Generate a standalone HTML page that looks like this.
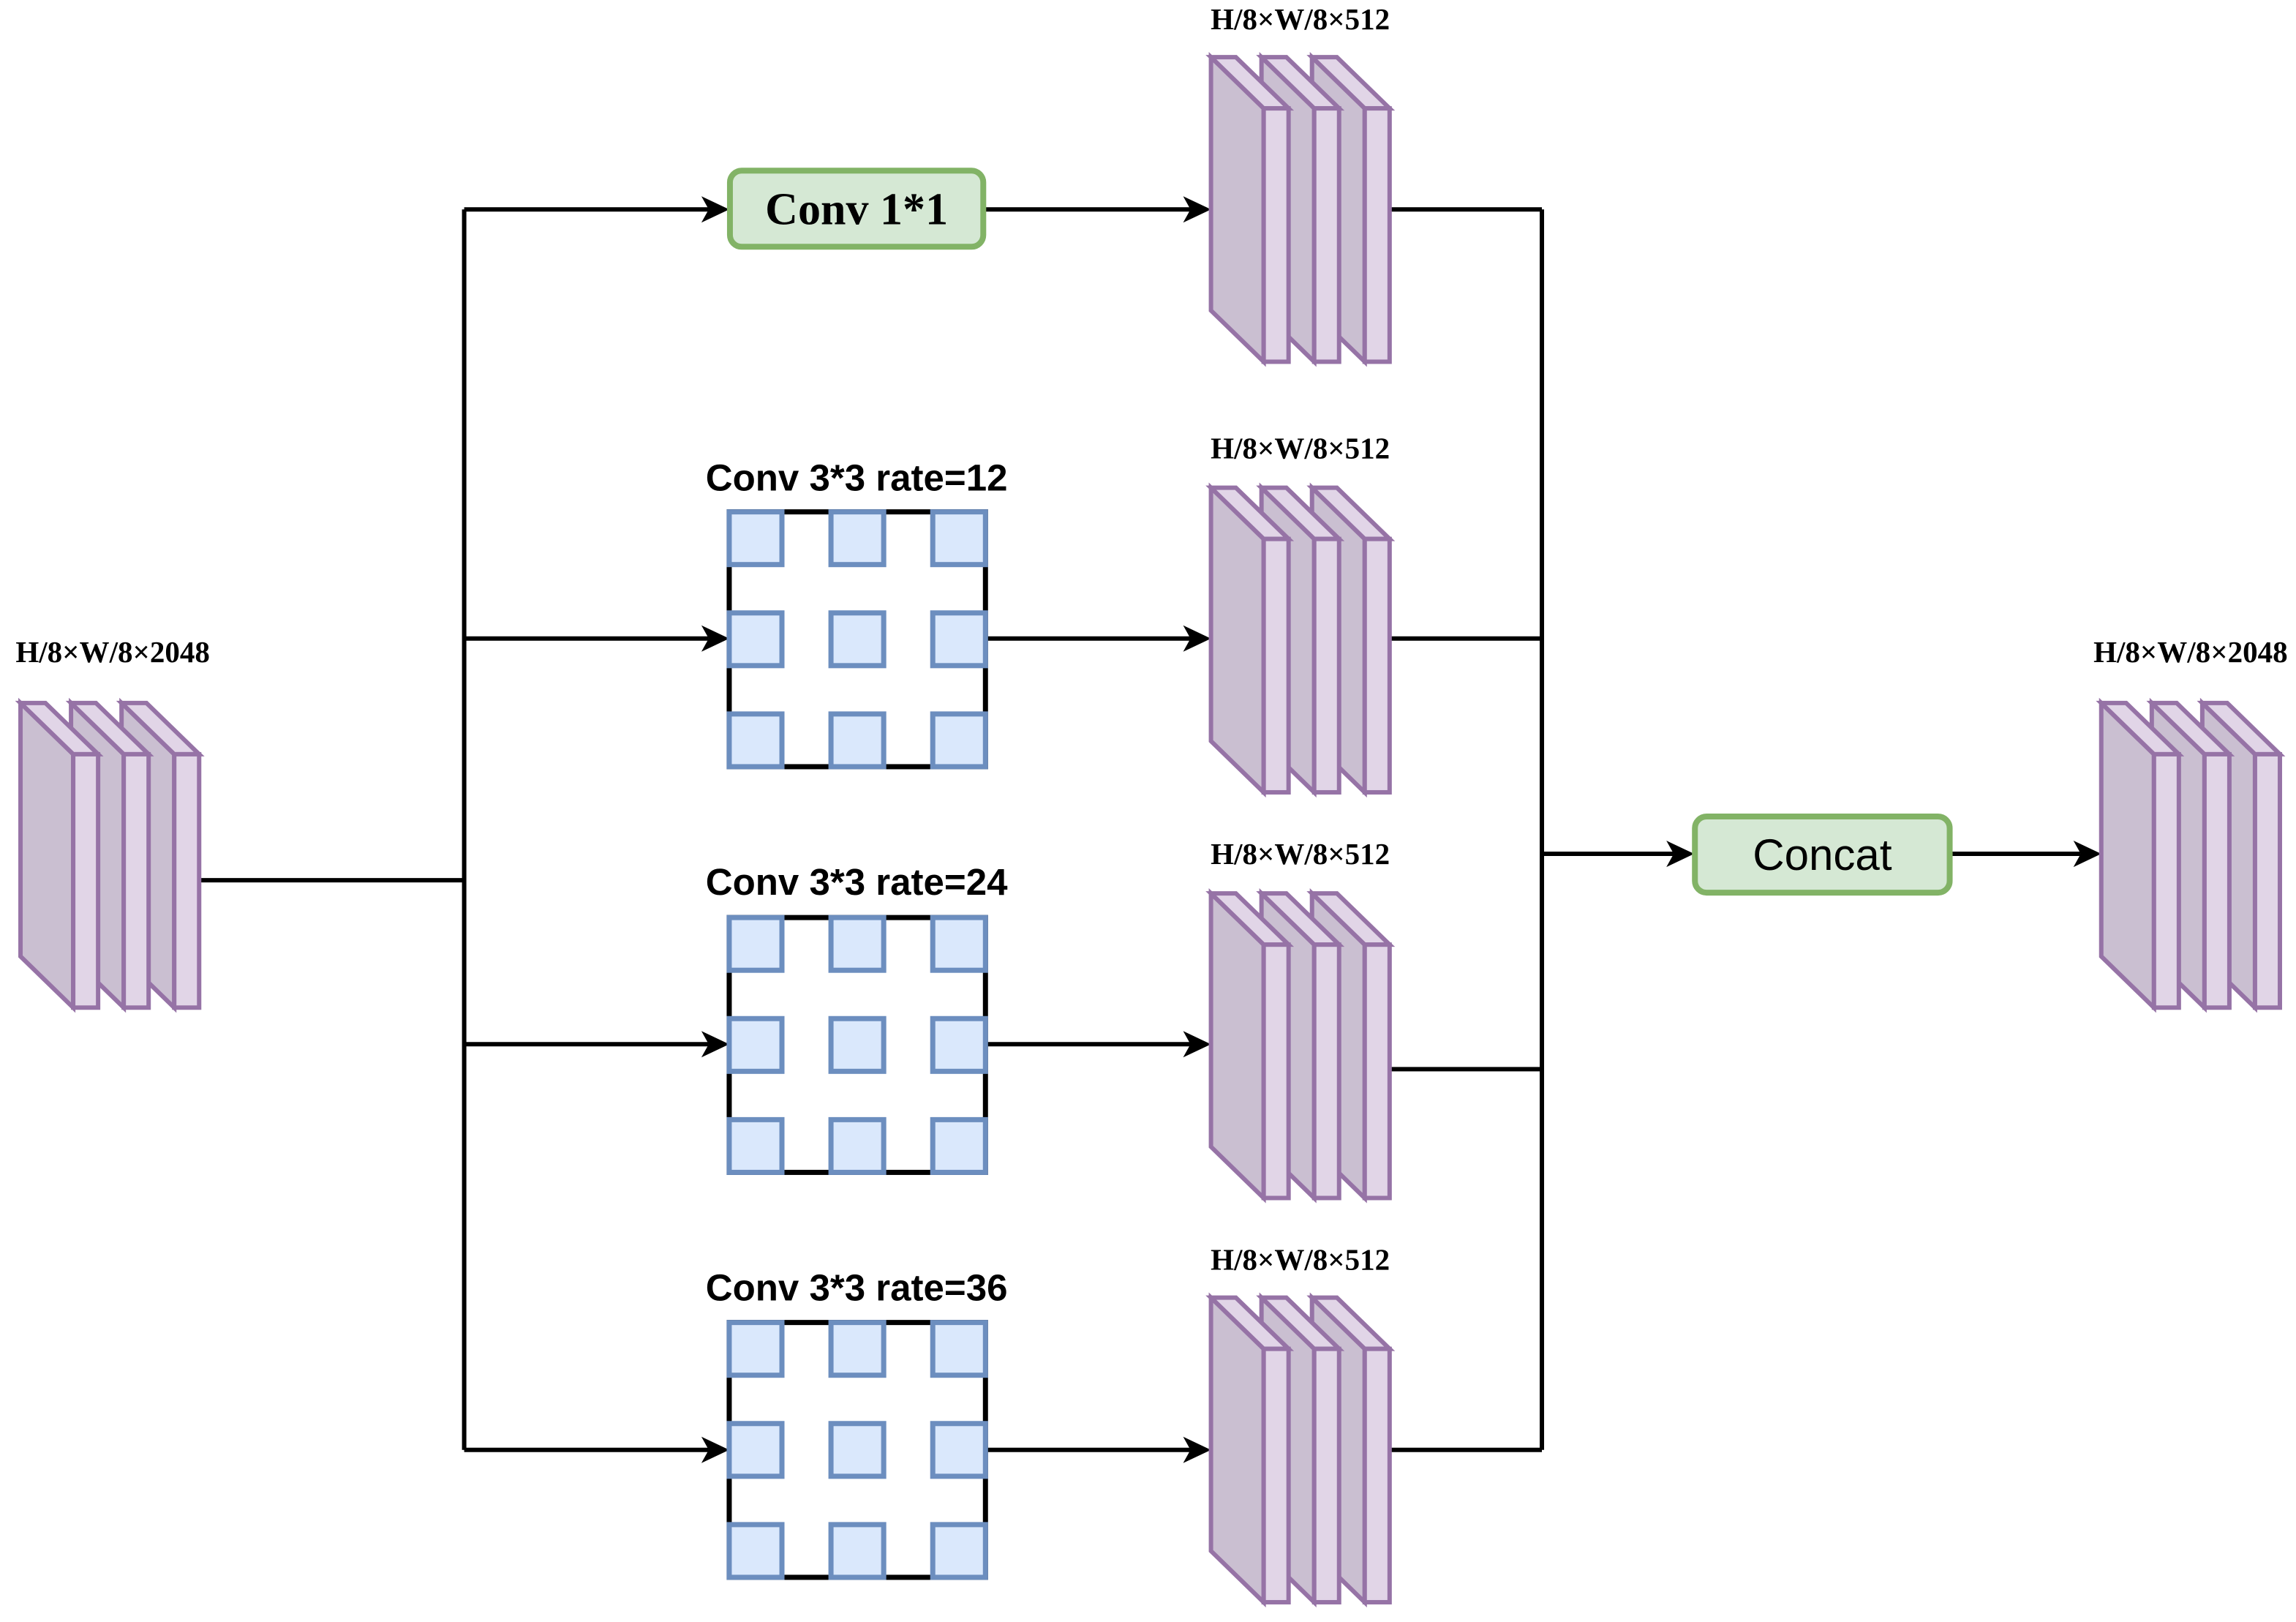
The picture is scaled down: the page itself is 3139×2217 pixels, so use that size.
<!DOCTYPE html>
<html><head><meta charset="utf-8"><style>html,body{margin:0;padding:0;background:#fff}svg{display:block}</style></head>
<body>
<svg width="3139" height="2217" viewBox="0 0 1568 1107.5" preserveAspectRatio="none" xmlns="http://www.w3.org/2000/svg">
<defs>
<g id="slab" stroke="#9673a6" stroke-width="3" stroke-linejoin="miter">
  <polygon points="0,0 0,173 36,208 36,35" fill="#cabfd1"/>
  <polygon points="0,0 17,0 53,35 36,35" fill="#e1d5e7"/>
  <rect x="36" y="35" width="17" height="173" fill="#e1d5e7"/>
</g>
<g id="stack">
  <use href="#slab" x="69"/>
  <use href="#slab" x="34.5"/>
  <use href="#slab" x="0"/>
</g>
<g id="grid">
  <rect x="0" y="0" width="175" height="174" fill="#fff" stroke="#000" stroke-width="3.5"/>
  <g fill="#dae8fc" stroke="#6c8ebf" stroke-width="3.5">
    <rect x="0" y="0" width="36" height="36"/><rect x="69.5" y="0" width="36" height="36"/><rect x="139" y="0" width="36" height="36"/>
    <rect x="0" y="69" width="36" height="36"/><rect x="69.5" y="69" width="36" height="36"/><rect x="139" y="69" width="36" height="36"/>
    <rect x="0" y="138" width="36" height="36"/><rect x="69.5" y="138" width="36" height="36"/><rect x="139" y="138" width="36" height="36"/>
  </g>
</g>
<polygon id="arr" points="0,0 -19,-9 -14,0 -19,9" fill="#000"/>
</defs>

<g stroke="#000" stroke-width="3" fill="none">
  <path d="M137 601 H317"/>
  <path d="M317 143 V990"/>
  <path d="M317 143 H484 M317 436 H484 M317 713 H484 M317 990 H484"/>
  <path d="M673 143 H813 M673 436 H813 M673 713 H813 M673 990 H813"/>
  <path d="M949 143 H1053 M949 436 H1053 M949 730 H1053 M949 990 H1053"/>
  <path d="M1053 143 V990"/>
  <path d="M1053 583 H1143 M1332 583 H1421"/>
</g>
<use href="#arr" x="498" y="143"/><use href="#arr" x="498" y="436"/><use href="#arr" x="498" y="713"/><use href="#arr" x="498" y="990"/>
<use href="#arr" x="827" y="143"/><use href="#arr" x="827" y="436"/><use href="#arr" x="827" y="713"/><use href="#arr" x="827" y="990"/>
<use href="#arr" x="1157" y="583"/><use href="#arr" x="1435" y="583"/>

<use href="#stack" x="14" y="480"/>
<use href="#stack" x="827" y="39"/>
<use href="#stack" x="827" y="333"/>
<use href="#stack" x="827" y="610"/>
<use href="#stack" x="827" y="886"/>
<use href="#stack" x="1435" y="480"/>

<use href="#grid" x="498" y="349.5"/>
<use href="#grid" x="498" y="626.5"/>
<use href="#grid" x="498" y="903"/>

<rect x="498.5" y="116.5" width="173" height="52" rx="8" fill="#d5e8d4" stroke="#82b366" stroke-width="4"/>
<text x="585" y="153" text-anchor="middle" font-family="Liberation Serif, serif" font-weight="bold" font-size="31">Conv 1*1</text>
<rect x="1157.5" y="557.5" width="174" height="52" rx="8" fill="#d5e8d4" stroke="#82b366" stroke-width="4"/>
<text x="1244.5" y="594" text-anchor="middle" font-family="Liberation Sans, sans-serif" font-size="30">Concat</text>

<g font-family="Liberation Sans, sans-serif" font-weight="bold" font-size="25.5" text-anchor="middle">
  <text x="585" y="335">Conv 3*3 rate=12</text>
  <text x="585" y="611">Conv 3*3 rate=24</text>
  <text x="585" y="888">Conv 3*3 rate=36</text>
</g>
<g font-family="Liberation Serif, serif" font-weight="bold" font-size="20.5" text-anchor="middle">
  <text x="888" y="20">H/8×W/8×512</text>
  <text x="888" y="313">H/8×W/8×512</text>
  <text x="888" y="590">H/8×W/8×512</text>
  <text x="888" y="867">H/8×W/8×512</text>
  <text x="77" y="452">H/8×W/8×2048</text>
  <text x="1496" y="452">H/8×W/8×2048</text>
</g>
</svg>
</body></html>
